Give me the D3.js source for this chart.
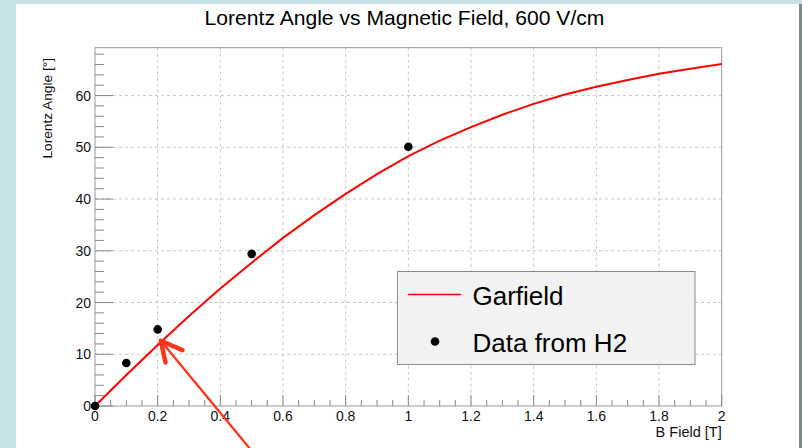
<!DOCTYPE html>
<html><head><meta charset="utf-8">
<script src="https://cdn.jsdelivr.net/npm/d3@7"></script>
<style>html,body{margin:0;padding:0;background:#c6e1e6;}svg{display:block;}</style>
</head><body>
<svg id="c" width="802" height="448"></svg>
<script>
// ---- data ----
const titleText = "Lorentz Angle vs Magnetic Field, 600 V/cm";
const xLabel = "B Field [T]";
const yLabel = "Lorentz Angle [°]";
const garfieldB = [0,0.1,0.2,0.3,0.4,0.5,0.6,0.7,0.8,0.9,1.0,1.1,1.2,1.3,1.4,1.5,1.6,1.7,1.8,1.9,2.0];
const garfieldAngle = [0,6.0,11.8,17.4,22.7,27.7,32.5,36.9,41.0,44.8,48.3,51.3,53.9,56.3,58.4,60.2,61.7,63.0,64.2,65.2,66.1];
const dataB = [0,0.1,0.2,0.5,1.0];
const dataAngle = [0,8.3,14.8,29.4,50.1];
const xTicks = [0,0.2,0.4,0.6,0.8,1,1.2,1.4,1.6,1.8,2];
const yTicks = [0,10,20,30,40,50,60];
const legendLabels = ["Garfield","Data from H2"];
// annotation arrow (data coords): tail, tip, two head arms
const arrowShaft = [[0.495,-8.3],[0.21,12.6]];
const arrowHead = [[0.279,10.8],[0.21,12.6],[0.225,8.4]];

const svg = d3.select("#c");
// canvas panel
svg.append("rect").attr("x",16).attr("y",4).attr("width",783).attr("height",444).attr("fill","#ffffff");
svg.append("rect").attr("x",799).attr("y",4).attr("width",3).attr("height",444).attr("fill","#7d8a8a");

const L=95, R=721.7, T=47.7, B=406;
const x = d3.scaleLinear().domain([0,2]).range([L,R]);
const y = d3.scaleLinear().domain([0,69.25]).range([B,T]);

// grid
const g = svg.append("g");
g.selectAll(".gx").data(xTicks.slice(1,-1)).join("line")
  .attr("x1",d=>x(d)).attr("x2",d=>x(d)).attr("y1",T).attr("y2",B)
  .attr("stroke","#c8c8c8").attr("stroke-dasharray","3,3").attr("stroke-width",1);
g.selectAll(".gy").data(yTicks.slice(1)).join("line")
  .attr("y1",d=>y(d)).attr("y2",d=>y(d)).attr("x1",L).attr("x2",R)
  .attr("stroke","#c8c8c8").attr("stroke-dasharray","3,3").attr("stroke-width",1);

// frame
svg.append("rect").attr("x",L).attr("y",T).attr("width",R-L).attr("height",B-T)
  .attr("fill","none").attr("stroke","#999").attr("stroke-width",1);

// x axis ticks
const xMinor = d3.range(0,2.0001,0.05);
svg.append("g").selectAll("line").data(xMinor).join("line")
  .attr("x1",d=>x(d)).attr("x2",d=>x(d)).attr("y1",B)
  .attr("y2",d=> (Math.abs(Math.round(d*5)-d*5)<1e-6) ? B-11 : B-6)
  .attr("stroke","#888").attr("stroke-width",1);
// y axis ticks
const yMinor = d3.range(0,69.2,2);
svg.append("g").selectAll("line").data(yMinor).join("line")
  .attr("y1",d=>y(d)).attr("y2",d=>y(d)).attr("x1",L)
  .attr("x2",d=> d%10===0 ? L+18 : L+9)
  .attr("stroke","#888").attr("stroke-width",1);

const font = "Liberation Sans, Arial, Helvetica, sans-serif";
// tick labels
svg.append("g").selectAll("text").data(xTicks).join("text")
  .attr("x",d=>x(d)).attr("y",421).attr("text-anchor","middle")
  .attr("font-family",font).attr("font-size",14).attr("fill","#111")
  .text(d=>d3.format("")(d));
svg.append("g").selectAll("text").data(yTicks).join("text")
  .attr("x",91).attr("y",d=>y(d)+5).attr("text-anchor","end")
  .attr("font-family",font).attr("font-size",14).attr("fill","#111")
  .text(d=>d);

// axis titles
svg.append("text").attr("x",R).attr("y",437).attr("text-anchor","end")
  .attr("font-family",font).attr("font-size",14.5).attr("fill","#111").text(xLabel);
svg.append("text").attr("transform",`translate(52,58) rotate(-90)`).attr("text-anchor","end")
  .attr("font-family",font).attr("font-size",13.7).attr("fill","#111").text(yLabel);

// title
svg.append("text").attr("x",404.5).attr("y",25).attr("text-anchor","middle")
  .attr("font-family",font).attr("font-size",21.1).attr("fill","#000").text(titleText);

// curve
const line = d3.line().x(d=>x(d[0])).y(d=>y(d[1]));
svg.append("path").datum(garfieldB.map((b,i)=>[b,garfieldAngle[i]]))
  .attr("d",line).attr("fill","none").attr("stroke","#ff0000").attr("stroke-width",2);

// data points
svg.append("g").selectAll("circle").data(dataB.map((b,i)=>[b,dataAngle[i]])).join("circle")
  .attr("cx",d=>x(d[0])).attr("cy",d=>y(d[1])).attr("r",4.3).attr("fill","#000");

// legend
const lg = svg.append("g");
lg.append("rect").attr("x",397.5).attr("y",271.5).attr("width",297.5).attr("height",93)
  .attr("fill","#f2f2f2").attr("stroke","#8a8a8a").attr("stroke-width",1);
lg.append("line").attr("x1",408).attr("x2",461).attr("y1",294.5).attr("y2",294.5)
  .attr("stroke","#ff0000").attr("stroke-width",1.5);
lg.append("circle").attr("cx",435).attr("cy",341.5).attr("r",4.3).attr("fill","#000");
lg.selectAll("text").data(legendLabels).join("text")
  .attr("x",472.5).attr("y",(d,i)=> i===0 ? 305 : 351.5)
  .attr("font-family",font).attr("font-size",26).attr("fill","#000").text(d=>d);

// annotation arrow
svg.append("path").attr("d",line(arrowShaft)).attr("fill","none")
  .attr("stroke","#ff3418").attr("stroke-width",2.3).attr("stroke-linecap","round");
svg.append("path").attr("d",line(arrowHead)).attr("fill","none")
  .attr("stroke","#ff3418").attr("stroke-width",4.5).attr("stroke-linecap","round").attr("stroke-linejoin","round");
</script>
</body></html>
